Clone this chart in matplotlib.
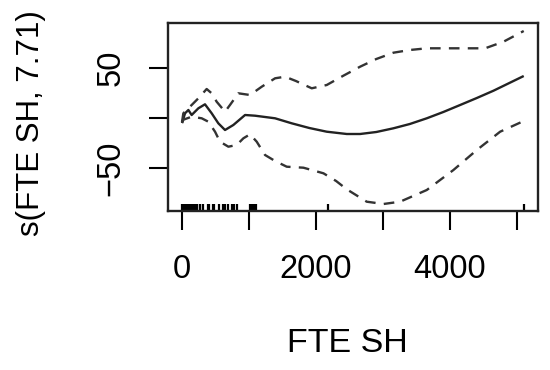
import matplotlib
matplotlib.use("Agg")
import matplotlib.pyplot as plt

plt.rcParams['font.family'] = ['Liberation Sans', 'DejaVu Sans']

# smooth estimate s(FTE SH)
fit_x = [0, 45, 95, 144, 244, 343, 443, 542, 642, 766, 941, 1090, 1389, 1637,
         1900, 2160, 2459, 2658, 2900, 3155, 3400, 3653, 3900, 4151, 4400, 4649, 4870, 5100]
fit_y = [-5, 4.7, 8, 3, 9.7, 13.7, 4.7, -5.3, -12, -7, 3, 2.3, -0.3, -5.3,
         -10, -13.7, -16, -16, -14, -10.3, -6, -0.3, 6, 13, 20, 27.3, 34.5, 42]

# upper confidence band
up_x = [0, 20, 119, 244, 368, 443, 517, 642, 716, 841, 1015, 1190, 1389, 1538,
        1700, 1936, 2160, 2400, 2658, 2900, 3155, 3400, 3653, 4151, 4524, 4798, 5100]
up_y = [-4, 4.7, 11.3, 19.7, 29, 24.7, 16.3, 6.3, 13, 24.7, 23, 31.3, 39.7, 41.3,
        37, 29.7, 33, 42, 51.3, 59, 65.3, 68, 69.7, 69.7, 69.7, 76.3, 87]

# lower confidence band
lo_x = [0, 20, 144, 294, 393, 493, 567, 692, 816, 916, 1015, 1115, 1239, 1389,
        1563, 1812, 2111, 2300, 2459, 2757, 3006, 3255, 3653, 4051, 4400, 4748, 5100]
lo_y = [-5, -1.7, 1.3, -0.3, -3.7, -13.7, -23.7, -28.7, -27, -20.3, -16.3, -23.7, -37, -43,
        -48.7, -49.7, -55.3, -63, -71.3, -83.7, -86, -83.7, -72, -52, -32, -13.7, -3]

# rug of observed FTE SH values
rug_x = [0, 10, 20, 30, 40, 50, 60, 70, 80, 90, 100, 110, 120, 130, 140, 150,
         160, 170, 180, 190, 200, 215, 229,
         262, 275, 308, 385, 400, 468, 480, 557, 607, 620, 642, 692, 741, 776, 816,
         1015, 1030, 1055, 1090, 1105, 2175, 5100]

x_ticks = [0, 1000, 2000, 3000, 4000, 5000]
x_ticklabels = ['0', '', '2000', '', '4000', '']
y_ticks = [-50, 0, 50]
y_ticklabels = ['\u221250', '', '50']

fig = plt.figure(figsize=(5.5, 3.7), dpi=100)
ax = fig.add_axes([168/550, 1-211/370, 370/550, 188/370])

lw = 1.7
ax.plot(fit_x, fit_y, color='#222222', lw=lw, solid_capstyle='butt')
ax.plot(up_x, up_y, color='#333333', lw=lw, dashes=(4.5, 3.5))
ax.plot(lo_x, lo_y, color='#333333', lw=lw, dashes=(4.5, 3.5))

ax.set_xlim(-209, 5313)
ax.set_ylim(-93, 95)

# rug
for rx in rug_x:
    ax.plot([rx, rx], [-93, -86], color='black', lw=1.6, clip_on=False,
            solid_capstyle='butt')

ax.set_xticks(x_ticks)
ax.set_xticklabels(x_ticklabels)
ax.set_yticks(y_ticks)
ax.set_yticklabels(y_ticklabels, rotation=90, va='center')

ax.tick_params(axis='both', direction='out', length=14, width=1.5,
               labelsize=23.5, colors='black')
ax.tick_params(axis='x', pad=17)
ax.tick_params(axis='y', pad=16)

for s in ax.spines.values():
    s.set_linewidth(1.7)
    s.set_color('#222222')

fig.text(347/550, 1-344/370, 'FTE SH', fontsize=24.5, ha='center', va='center')
fig.text(31/550, 1-123/370, 's(FTE SH, 7.71)', rotation=90, fontsize=22.5,
         ha='center', va='center')

fig.savefig('out.png', dpi=100)
